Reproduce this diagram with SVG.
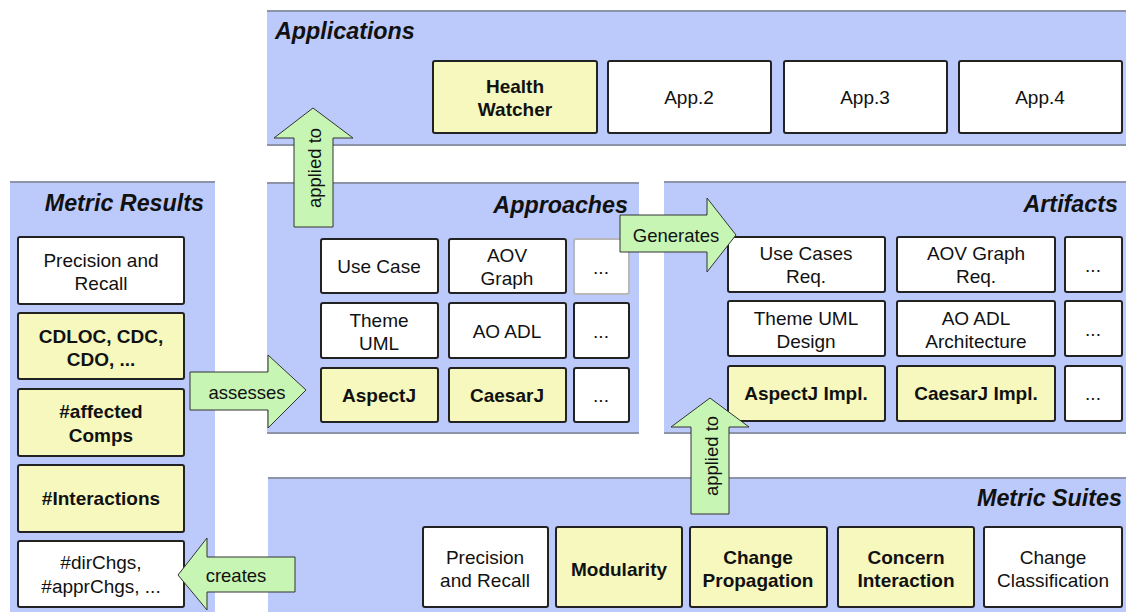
<svg xmlns="http://www.w3.org/2000/svg" width="1126" height="612" viewBox="0 0 1126 612">
<style>
.panel{fill:#bccafb}
.edge{stroke:#8e94a8;stroke-width:2}
.title{font-family:"Liberation Sans",Arial,sans-serif;font-size:23.3px;font-weight:bold;font-style:italic;fill:#111}
.bw{fill:#ffffff;stroke:#222;stroke-width:2}
.by{fill:#f6f8be;stroke:#222;stroke-width:2}
.t{font-family:"Liberation Sans",Arial,sans-serif;font-size:19px;fill:#111;text-anchor:middle}
.b{font-weight:bold}
.arrow{fill:#c6f5b4;stroke:#333;stroke-width:1}
.al{font-family:"Liberation Sans",Arial,sans-serif;font-size:18.5px;fill:#111;text-anchor:middle}
</style>
<rect width="1126" height="612" fill="#ffffff"/>

<!-- Panels -->
<g id="applications">
<rect class="panel" x="267" y="11" width="859" height="134"/>
<line class="edge" x1="267" y1="11" x2="1126" y2="11"/>
<line class="edge" x1="267" y1="145" x2="1126" y2="145"/>
<text class="title" x="275" y="39">Applications</text>
</g>
<g id="approaches">
<rect class="panel" x="267" y="183" width="372" height="250"/>
<line class="edge" x1="267" y1="183" x2="639" y2="183"/>
<line class="edge" x1="267" y1="433" x2="639" y2="433"/>
<text class="title" x="628" y="213" text-anchor="end">Approaches</text>
</g>
<g id="artifacts">
<rect class="panel" x="664" y="182" width="462" height="251"/>
<line class="edge" x1="664" y1="182" x2="1126" y2="182"/>
<line class="edge" x1="664" y1="433" x2="1126" y2="433"/>
<text class="title" x="1118" y="212" text-anchor="end">Artifacts</text>
</g>
<g id="metric-results">
<rect class="panel" x="10" y="182" width="205" height="430"/>
<line class="edge" x1="10" y1="182" x2="215" y2="182"/>
<text class="title" x="204" y="211" text-anchor="end">Metric Results</text>
</g>
<g id="metric-suites">
<rect class="panel" x="268" y="478" width="858" height="134"/>
<line class="edge" x1="268" y1="478" x2="1126" y2="478"/>
<text class="title" x="1122" y="506" text-anchor="end">Metric Suites</text>
</g>

<!-- Applications boxes -->
<g id="health-watcher"><rect class="by" x="433" y="61" width="164" height="72" rx="2"/><text class="t b" x="515" y="93">Health</text><text class="t b" x="515" y="116">Watcher</text></g>
<g id="app2"><rect class="bw" x="608" y="61" width="163" height="72" rx="2"/><text class="t" x="689" y="104">App.2</text></g>
<g id="app3"><rect class="bw" x="784" y="61" width="163" height="72" rx="2"/><text class="t" x="865" y="104">App.3</text></g>
<g id="app4"><rect class="bw" x="959" y="61" width="163" height="72" rx="2"/><text class="t" x="1040" y="104">App.4</text></g>

<!-- Approaches boxes -->
<g id="ap-usecase"><rect class="bw" x="321" y="239" width="117" height="54" rx="2"/><text class="t" x="379" y="273">Use Case</text></g>
<g id="ap-aov"><rect class="bw" x="449" y="239" width="117" height="54" rx="2"/><text class="t" x="507" y="262">AOV</text><text class="t" x="507" y="285">Graph</text></g>
<g id="ap-more1"><rect class="bw" x="574" y="239" width="55" height="55" rx="2" style="stroke:#b8b8b8"/><text class="t" x="601" y="274">...</text></g>
<g id="ap-theme"><rect class="bw" x="321" y="303" width="117" height="55" rx="2"/><text class="t" x="379" y="327">Theme</text><text class="t" x="379" y="350">UML</text></g>
<g id="ap-aoadl"><rect class="bw" x="449" y="303" width="117" height="55" rx="2"/><text class="t" x="507" y="338">AO ADL</text></g>
<g id="ap-more2"><rect class="bw" x="574" y="303" width="55" height="55" rx="2"/><text class="t" x="601" y="338">...</text></g>
<g id="ap-aspectj"><rect class="by" x="321" y="368" width="117" height="54" rx="2"/><text class="t b" x="379" y="402">AspectJ</text></g>
<g id="ap-caesarj"><rect class="by" x="449" y="368" width="117" height="54" rx="2"/><text class="t b" x="507" y="402">CaesarJ</text></g>
<g id="ap-more3"><rect class="bw" x="574" y="368" width="55" height="54" rx="2"/><text class="t" x="601" y="402">...</text></g>

<!-- Artifacts boxes -->
<g id="ar-usecases"><rect class="bw" x="728" y="237" width="157" height="55" rx="2"/><text class="t" x="806" y="260">Use Cases</text><text class="t" x="806" y="283">Req.</text></g>
<g id="ar-aov"><rect class="bw" x="897" y="237" width="158" height="55" rx="2"/><text class="t" x="976" y="260">AOV Graph</text><text class="t" x="976" y="283">Req.</text></g>
<g id="ar-more1"><rect class="bw" x="1065" y="237" width="57" height="55" rx="2"/><text class="t" x="1093" y="272">...</text></g>
<g id="ar-theme"><rect class="bw" x="728" y="301" width="157" height="55" rx="2"/><text class="t" x="806" y="325">Theme UML</text><text class="t" x="806" y="348">Design</text></g>
<g id="ar-aoadl"><rect class="bw" x="897" y="301" width="158" height="55" rx="2"/><text class="t" x="976" y="325">AO ADL</text><text class="t" x="976" y="348">Architecture</text></g>
<g id="ar-more2"><rect class="bw" x="1065" y="301" width="57" height="55" rx="2"/><text class="t" x="1093" y="336">...</text></g>
<g id="ar-aspectj"><rect class="by" x="728" y="366" width="157" height="55" rx="2"/><text class="t b" x="806" y="400">AspectJ Impl.</text></g>
<g id="ar-caesarj"><rect class="by" x="897" y="366" width="158" height="55" rx="2"/><text class="t b" x="976" y="400">CaesarJ Impl.</text></g>
<g id="ar-more3"><rect class="bw" x="1065" y="366" width="57" height="55" rx="2"/><text class="t" x="1093" y="400">...</text></g>

<!-- Metric Results boxes -->
<g id="mr-precision"><rect class="bw" x="18" y="237" width="166" height="67" rx="2"/><text class="t" x="101" y="267">Precision and</text><text class="t" x="101" y="290">Recall</text></g>
<g id="mr-cdloc"><rect class="by" x="18" y="313" width="166" height="66" rx="2"/><text class="t b" x="101" y="343">CDLOC, CDC,</text><text class="t b" x="101" y="366">CDO, ...</text></g>
<g id="mr-affected"><rect class="by" x="18" y="389" width="166" height="67" rx="2"/><text class="t b" x="101" y="418">#affected</text><text class="t b" x="101" y="442">Comps</text></g>
<g id="mr-interactions"><rect class="by" x="18" y="465" width="166" height="67" rx="2"/><text class="t b" x="101" y="505">#Interactions</text></g>
<g id="mr-dirchgs"><rect class="bw" x="18" y="541" width="166" height="66" rx="2"/><text class="t" x="101" y="569">#dirChgs,</text><text class="t" x="101" y="593">#apprChgs, ...</text></g>

<!-- Metric Suites boxes -->
<g id="ms-precision"><rect class="bw" x="423" y="527" width="125" height="80" rx="2"/><text class="t" x="485" y="564">Precision</text><text class="t" x="485" y="587">and Recall</text></g>
<g id="ms-modularity"><rect class="by" x="556" y="527" width="126" height="80" rx="2"/><text class="t b" x="619" y="576">Modularity</text></g>
<g id="ms-changeprop"><rect class="by" x="690" y="527" width="137" height="80" rx="2"/><text class="t b" x="758" y="564">Change</text><text class="t b" x="758" y="587">Propagation</text></g>
<g id="ms-concern"><rect class="by" x="838" y="527" width="136" height="80" rx="2"/><text class="t b" x="906" y="564">Concern</text><text class="t b" x="906" y="587">Interaction</text></g>
<g id="ms-changeclass"><rect class="bw" x="984" y="527" width="138" height="80" rx="2"/><text class="t" x="1053" y="564">Change</text><text class="t" x="1053" y="587">Classification</text></g>

<!-- Connectors -->
<g id="connectors">
<g id="arrow-applied-top"><polygon class="arrow" points="294,227 294,138 274,138 313,108 353,138 333,138 333,227"/><text class="al" transform="translate(315,168) rotate(-90)" x="0" y="6">applied to</text></g>
<g id="arrow-applied-bottom"><polygon class="arrow" points="691,514 691,427 671,427 710,398 749,427 729,427 729,514"/><text class="al" transform="translate(712,456) rotate(-90)" x="0" y="6">applied to</text></g>
<g id="arrow-generates"><polygon class="arrow" points="620,215 707,215 707,198 736,235 707,272 707,252 620,252"/><text class="al" x="676" y="242">Generates</text></g>
<g id="arrow-assesses"><polygon class="arrow" points="190,372 268,372 268,355 306,390 268,428 268,410 190,410"/><text class="al" x="247" y="399">assesses</text></g>
<g id="arrow-creates"><polygon class="arrow" points="295,557 207,557 207,538 178,575 207,610 207,592 295,592"/><text class="al" x="236" y="582">creates</text></g>
</g>
</svg>
